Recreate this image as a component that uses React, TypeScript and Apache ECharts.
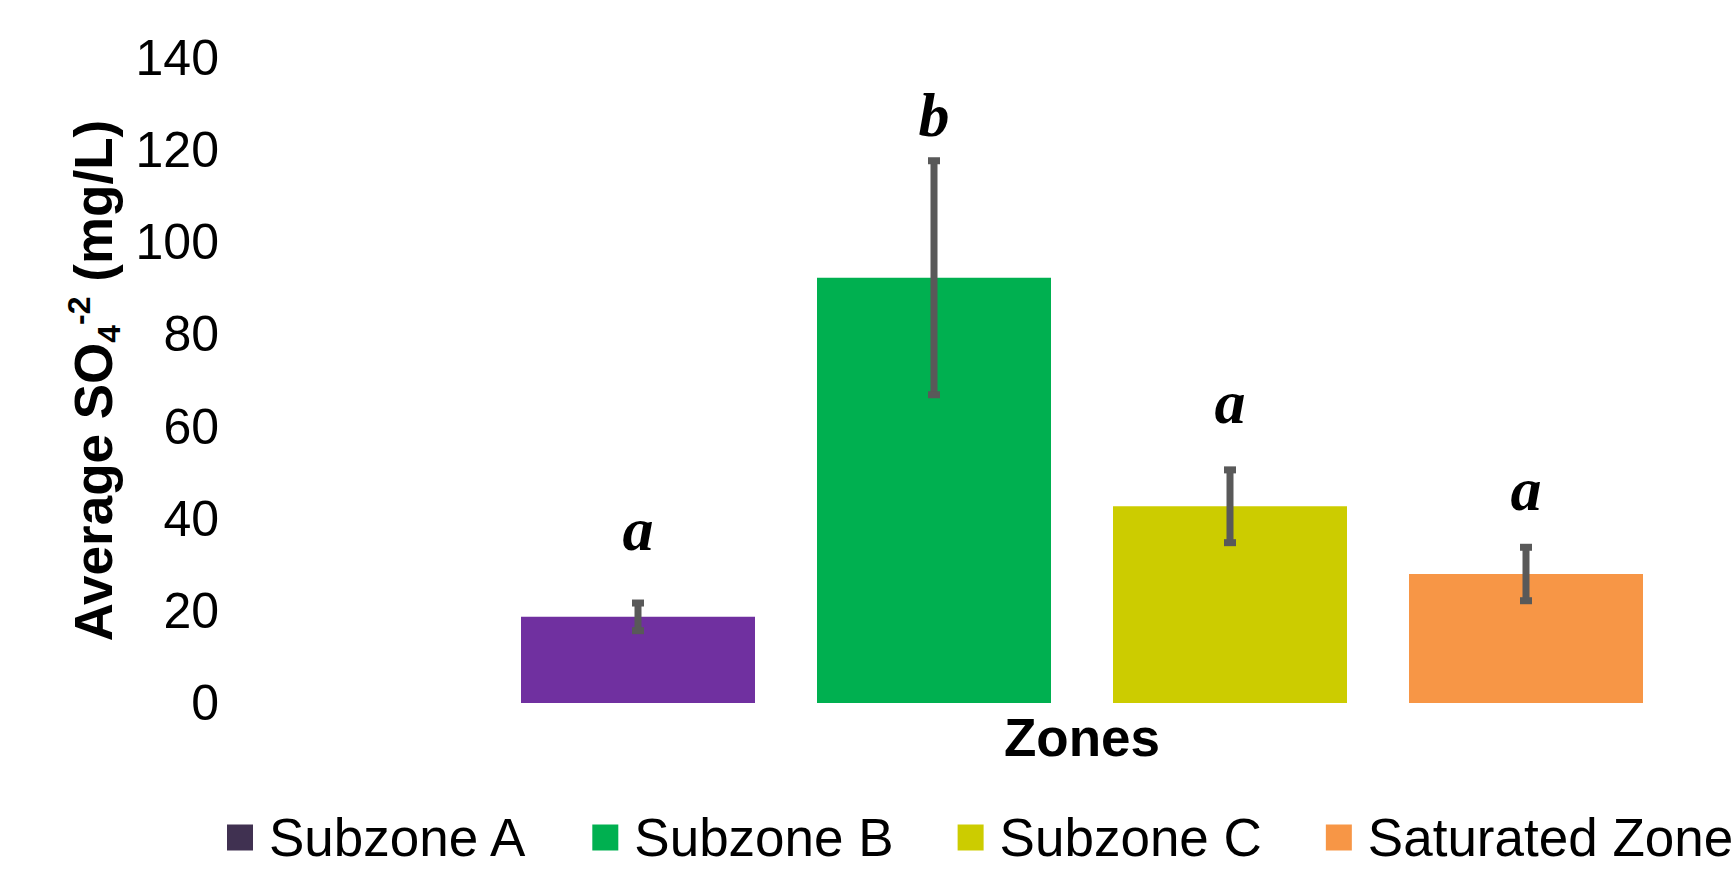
import React, { useEffect, useRef } from "react";
import * as echarts from "echarts";

// Zones and their mean sulfate concentrations (mg/L) with error half-widths
const categories = ["Subzone A", "Subzone B", "Subzone C", "Saturated Zone"];
const means = [18.7, 92.3, 42.7, 28.0];
const errors = [3.0, 25.4, 7.9, 5.8];
// Significance letters and the level at which each is centred
const letters = ["a", "b", "a", "a"];
const letterLevels = [37.7, 127.6, 65.3, 46.4];

const barColors = ["#7030A0", "#00B050", "#CCCC00", "#F79646"];
const legendColors = ["#403151", "#00B050", "#CCCC00", "#F79646"];

const SANS = "'Liberation Sans', Arial, sans-serif";
const SERIF = "'Liberation Serif', 'Times New Roman', serif";

export default function App() {
  const ref = useRef<HTMLDivElement>(null);

  useEffect(() => {
    if (!ref.current) return;
    const chart = echarts.init(ref.current, null, { renderer: "svg" });

    const barSeries = categories.map((name, i) => ({
      type: "bar",
      name,
      stack: "zones",
      barWidth: 234,
      itemStyle: { color: barColors[i] },
      data: categories.map((_, j) => (j === i ? means[i] : "-")),
    }));

    const errorSeries = {
      type: "custom",
      name: "error",
      data: means.map((m, i) => [i, m - errors[i], m + errors[i]]),
      encode: { x: 0, y: [1, 2] },
      z: 5,
      renderItem: (params: any, api: any) => {
        const lo = api.coord([api.value(0), api.value(1)]);
        const hi = api.coord([api.value(0), api.value(2)]);
        const cx = lo[0];
        const fill = "#595959";
        return {
          type: "group",
          children: [
            { type: "rect", shape: { x: cx - 3.5, y: hi[1], width: 7, height: lo[1] - hi[1] }, style: { fill } },
            { type: "rect", shape: { x: cx - 6, y: hi[1] - 3.5, width: 12, height: 7 }, style: { fill } },
            { type: "rect", shape: { x: cx - 6, y: lo[1] - 3.5, width: 12, height: 7 }, style: { fill } },
          ],
        };
      },
    };

    const letterSeries = {
      type: "custom",
      name: "letters",
      data: letterLevels.map((v, i) => [i, v]),
      encode: { x: 0, y: 1 },
      z: 6,
      renderItem: (params: any, api: any) => {
        const p = api.coord([api.value(0), api.value(1)]);
        return {
          type: "text",
          x: p[0],
          y: p[1],
          style: {
            text: letters[params.dataIndex],
            fill: "#000",
            font: `italic bold 62px ${SERIF}`,
            align: "center",
            verticalAlign: "middle",
          },
        };
      },
    };

    chart.setOption({
      animation: false,
      backgroundColor: "#fff",
      grid: { left: 490, right: 62, top: 58, bottom: 170, containLabel: false },
      legend: {
        left: 222,
        top: 806,
        width: 1700,
        itemWidth: 26,
        itemHeight: 26,
        itemGap: 64,
        icon: "rect",
        textStyle: { fontSize: 53, fontFamily: SANS, color: "#000", padding: [0, 0, 0, 11] },
        data: categories.map((name, i) => ({ name, itemStyle: { color: legendColors[i] } })),
      },
      xAxis: {
        type: "category",
        data: categories,
        name: "Zones",
        nameLocation: "middle",
        nameGap: 8,
        nameTextStyle: { fontSize: 53, fontWeight: "bold", fontFamily: SANS, color: "#000", verticalAlign: "top" },
        axisLine: { show: false },
        axisTick: { show: false },
        axisLabel: { show: false },
        splitLine: { show: false },
      },
      yAxis: {
        type: "value",
        min: 0,
        max: 140,
        interval: 20,
        name: "Average SO{sub|4}{sup|-2} (mg/L)",
        nameLocation: "middle",
        nameGap: 361,
        nameRotate: 90,
        nameTextStyle: {
          fontSize: 53,
          fontWeight: "bold",
          fontFamily: SANS,
          color: "#000",
          lineHeight: 62,
          rich: {
            sub: { fontSize: 32, fontWeight: "bold", fontFamily: SANS, color: "#000", verticalAlign: "bottom", lineHeight: 62 },
            sup: { fontSize: 32, fontWeight: "bold", fontFamily: SANS, color: "#000", verticalAlign: "top", lineHeight: 62 },
          },
        },
        axisLine: { show: false },
        axisTick: { show: false },
        splitLine: { show: false },
        axisLabel: { fontSize: 50, fontFamily: SANS, color: "#000", margin: 271 },
      },
      series: [...barSeries, errorSeries, letterSeries],
    });

    return () => chart.dispose();
  }, []);

  return (
    <div
      ref={ref}
      style={{ position: "fixed", left: 0, top: 0, width: 1736, height: 873 }}
    />
  );
}
